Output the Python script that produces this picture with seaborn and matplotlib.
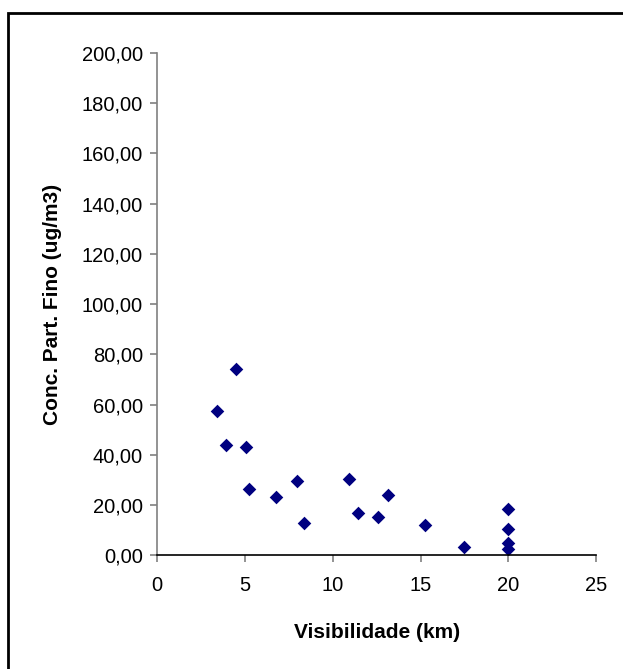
import numpy as np
import pandas as pd
import matplotlib
matplotlib.use('Agg')
import matplotlib.pyplot as plt
import seaborn as sns
from matplotlib.patches import Rectangle
from matplotlib.ticker import FuncFormatter

# values
visibilidade = [3.42, 3.90, 4.47, 5.05, 5.26, 6.75, 7.98, 8.36, 10.95, 11.45,
                12.56, 13.15, 15.28, 17.45, 20.0, 20.0, 20.0, 20.0]
conc_fino = [57.3, 43.7, 74.1, 43.0, 26.2, 23.1, 29.4, 12.8, 30.3, 16.8,
             15.1, 23.8, 11.9, 3.2, 18.3, 10.3, 4.9, 2.3]
x_ticks = [0, 5, 10, 15, 20, 25]
y_ticks = [0, 20, 40, 60, 80, 100, 120, 140, 160, 180, 200]

data = pd.DataFrame({'vis': visibilidade, 'conc': conc_fino})

sns.set_style('white')
plt.rcParams['font.family'] = ['Liberation Sans', 'DejaVu Sans']
plt.rcParams['text.color'] = 'black'
plt.rcParams['axes.labelcolor'] = 'black'

fig = plt.figure(figsize=(6.23, 6.69), dpi=100)
ax = fig.add_axes([0.252, 0.170, 0.705, 0.751])

sns.scatterplot(data=data, x='vis', y='conc', marker='D', s=48,
                color='#000080', edgecolor='#000080', linewidth=0, ax=ax)

ax.set_xlim(0, 25)
ax.set_ylim(0, 200)
ax.set_xticks(x_ticks)
ax.set_yticks(y_ticks)
ax.yaxis.set_major_formatter(FuncFormatter(lambda v, p: f'{v:.2f}'.replace('.', ',')))
ax.tick_params(axis='both', direction='out', length=5, width=1.2, color='#808080',
               labelsize=14.5, labelcolor='black', pad=5, bottom=True, left=True)
ax.tick_params(axis='x', pad=10)

for s in ['top', 'right']:
    ax.spines[s].set_visible(False)
ax.spines['left'].set_color('#808080')
ax.spines['left'].set_linewidth(1.2)
ax.spines['bottom'].set_color('black')
ax.spines['bottom'].set_linewidth(1.2)

ax.set_xlabel('Visibilidade (km)', fontsize=15, fontweight='bold', labelpad=20)
ax.set_ylabel('Conc. Part. Fino (ug/m3)', fontsize=15, fontweight='bold', labelpad=14)

# outer chart border
fig.patches.append(Rectangle((8 / 623, -0.1), 1.2, 1 - 13 / 669 + 0.1,
                             transform=fig.transFigure, fill=False,
                             edgecolor='black', linewidth=2))

fig.savefig('out.png', dpi=100)
